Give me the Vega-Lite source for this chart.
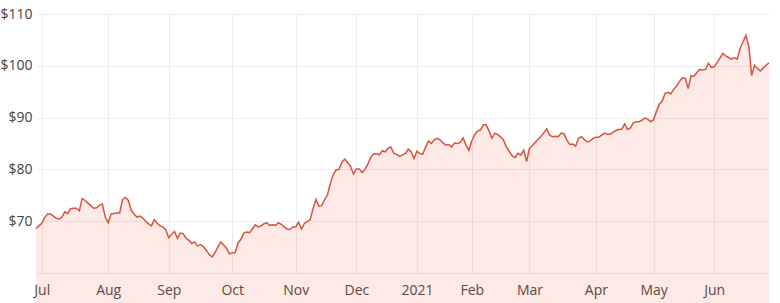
{
  "$schema": "https://vega.github.io/schema/vega-lite/v6.json",
  "width": 733,
  "height": 259,
  "autosize": {"type": "none"},
  "padding": {"left": 36, "top": 14, "right": 11, "bottom": 30},
  "background": "#ffffff",
  "config": {
    "view": {"stroke": null},
    "font": "Open Sans",
    "axis": {
      "labelFont": "Open Sans",
      "labelFontSize": 14,
      "labelColor": "#444444",
      "gridColor": "#ececec",
      "gridWidth": 1,
      "ticks": false,
      "domain": false,
      "title": null
    }
  },
  "data": {
    "values": [
      {"d":"2020-06-29","p":68.6},{"d":"2020-06-30","p":69.1},{"d":"2020-07-01","p":69.6},{"d":"2020-07-02","p":70.7},{"d":"2020-07-03","p":71.4},
      {"d":"2020-07-06","p":71.4},{"d":"2020-07-07","p":71.0},{"d":"2020-07-08","p":70.6},{"d":"2020-07-09","p":70.4},{"d":"2020-07-10","p":70.8},
      {"d":"2020-07-13","p":71.8},{"d":"2020-07-14","p":71.5},{"d":"2020-07-15","p":72.4},{"d":"2020-07-16","p":72.5},{"d":"2020-07-17","p":72.5},
      {"d":"2020-07-20","p":72.0},{"d":"2020-07-21","p":74.4},{"d":"2020-07-22","p":74.0},{"d":"2020-07-23","p":73.5},{"d":"2020-07-24","p":73.0},
      {"d":"2020-07-27","p":72.5},{"d":"2020-07-28","p":72.6},{"d":"2020-07-29","p":73.1},{"d":"2020-07-30","p":73.3},{"d":"2020-07-31","p":70.8},
      {"d":"2020-08-03","p":69.7},{"d":"2020-08-04","p":71.4},{"d":"2020-08-05","p":71.5},{"d":"2020-08-06","p":71.6},{"d":"2020-08-07","p":71.6},
      {"d":"2020-08-10","p":74.2},{"d":"2020-08-11","p":74.6},{"d":"2020-08-12","p":74.0},{"d":"2020-08-13","p":72.1},{"d":"2020-08-14","p":71.4},
      {"d":"2020-08-17","p":70.8},{"d":"2020-08-18","p":71.0},{"d":"2020-08-19","p":70.6},{"d":"2020-08-20","p":70.0},{"d":"2020-08-21","p":69.5},
      {"d":"2020-08-24","p":69.1},{"d":"2020-08-25","p":70.3},{"d":"2020-08-26","p":69.6},{"d":"2020-08-27","p":69.1},{"d":"2020-08-28","p":68.9},
      {"d":"2020-08-31","p":68.3},
      {"d":"2020-09-01","p":66.8},{"d":"2020-09-02","p":67.5},{"d":"2020-09-03","p":68.0},{"d":"2020-09-04","p":66.7},
      {"d":"2020-09-07","p":67.7},{"d":"2020-09-08","p":67.6},{"d":"2020-09-09","p":66.7},{"d":"2020-09-10","p":66.3},{"d":"2020-09-11","p":65.7},
      {"d":"2020-09-14","p":66.0},{"d":"2020-09-15","p":65.2},{"d":"2020-09-16","p":65.5},{"d":"2020-09-17","p":65.1},{"d":"2020-09-18","p":64.4},
      {"d":"2020-09-21","p":63.6},{"d":"2020-09-22","p":63.1},{"d":"2020-09-23","p":63.9},{"d":"2020-09-24","p":65.0},{"d":"2020-09-25","p":66.0},
      {"d":"2020-09-28","p":65.4},{"d":"2020-09-29","p":64.8},{"d":"2020-09-30","p":63.7},
      {"d":"2020-10-01","p":63.9},{"d":"2020-10-02","p":63.9},
      {"d":"2020-10-05","p":65.8},{"d":"2020-10-06","p":66.5},{"d":"2020-10-07","p":67.7},{"d":"2020-10-08","p":67.9},{"d":"2020-10-09","p":67.8},
      {"d":"2020-10-12","p":68.5},{"d":"2020-10-13","p":69.3},{"d":"2020-10-14","p":68.9},{"d":"2020-10-15","p":69.1},{"d":"2020-10-16","p":69.5},
      {"d":"2020-10-19","p":69.7},{"d":"2020-10-20","p":69.2},{"d":"2020-10-21","p":69.3},{"d":"2020-10-22","p":69.2},{"d":"2020-10-23","p":69.7},
      {"d":"2020-10-26","p":69.4},{"d":"2020-10-27","p":68.9},{"d":"2020-10-28","p":68.5},{"d":"2020-10-29","p":68.4},{"d":"2020-10-30","p":68.9},
      {"d":"2020-11-02","p":68.9},{"d":"2020-11-03","p":69.8},{"d":"2020-11-04","p":68.5},{"d":"2020-11-05","p":69.6},{"d":"2020-11-06","p":69.9},
      {"d":"2020-11-09","p":70.3},{"d":"2020-11-10","p":72.4},{"d":"2020-11-11","p":74.2},{"d":"2020-11-12","p":72.9},{"d":"2020-11-13","p":73.0},
      {"d":"2020-11-16","p":74.1},{"d":"2020-11-17","p":75.1},{"d":"2020-11-18","p":77.3},{"d":"2020-11-19","p":79.0},{"d":"2020-11-20","p":79.9},
      {"d":"2020-11-23","p":80.0},{"d":"2020-11-24","p":81.4},{"d":"2020-11-25","p":82.0},{"d":"2020-11-26","p":81.3},{"d":"2020-11-27","p":80.6},
      {"d":"2020-11-30","p":79.1},
      {"d":"2020-12-01","p":80.1},{"d":"2020-12-02","p":80.1},{"d":"2020-12-03","p":79.4},{"d":"2020-12-04","p":80.0},
      {"d":"2020-12-07","p":81.0},{"d":"2020-12-08","p":82.3},{"d":"2020-12-09","p":83.0},{"d":"2020-12-10","p":83.0},{"d":"2020-12-11","p":82.8},
      {"d":"2020-12-14","p":83.6},{"d":"2020-12-15","p":83.4},{"d":"2020-12-16","p":84.1},{"d":"2020-12-17","p":84.3},{"d":"2020-12-18","p":83.1},
      {"d":"2020-12-21","p":82.9},{"d":"2020-12-22","p":82.5},{"d":"2020-12-23","p":82.8},{"d":"2020-12-24","p":83.1},
      {"d":"2020-12-29","p":83.9},{"d":"2020-12-30","p":83.4},{"d":"2020-12-31","p":82.1},
      {"d":"2021-01-04","p":83.5},{"d":"2021-01-05","p":83.1},{"d":"2021-01-06","p":82.9},{"d":"2021-01-07","p":84.3},{"d":"2021-01-08","p":85.5},
      {"d":"2021-01-11","p":85.0},{"d":"2021-01-12","p":85.7},{"d":"2021-01-13","p":86.0},{"d":"2021-01-14","p":85.7},{"d":"2021-01-15","p":85.1},
      {"d":"2021-01-18","p":84.7},{"d":"2021-01-19","p":84.8},{"d":"2021-01-20","p":84.3},{"d":"2021-01-21","p":85.1},{"d":"2021-01-22","p":85.0},
      {"d":"2021-01-25","p":85.2},{"d":"2021-01-27","p":86.1},{"d":"2021-01-28","p":84.7},{"d":"2021-01-29","p":83.7},
      {"d":"2021-02-01","p":85.5},{"d":"2021-02-02","p":86.7},{"d":"2021-02-03","p":87.4},{"d":"2021-02-04","p":87.6},{"d":"2021-02-05","p":88.6},
      {"d":"2021-02-08","p":88.6},{"d":"2021-02-09","p":87.4},{"d":"2021-02-10","p":86.0},{"d":"2021-02-11","p":87.0},{"d":"2021-02-12","p":86.7},
      {"d":"2021-02-15","p":86.3},{"d":"2021-02-16","p":85.7},{"d":"2021-02-17","p":84.3},{"d":"2021-02-18","p":83.5},{"d":"2021-02-19","p":82.6},
      {"d":"2021-02-22","p":82.3},{"d":"2021-02-23","p":83.1},{"d":"2021-02-24","p":82.8},{"d":"2021-02-25","p":83.7},{"d":"2021-02-26","p":81.5},
      {"d":"2021-03-01","p":84.1},{"d":"2021-03-02","p":84.6},{"d":"2021-03-03","p":85.2},{"d":"2021-03-04","p":85.8},{"d":"2021-03-05","p":86.4},
      {"d":"2021-03-08","p":87.1},{"d":"2021-03-09","p":87.8},{"d":"2021-03-10","p":86.6},{"d":"2021-03-11","p":86.3},{"d":"2021-03-12","p":86.4},
      {"d":"2021-03-15","p":86.3},{"d":"2021-03-16","p":87.0},{"d":"2021-03-17","p":86.9},{"d":"2021-03-18","p":85.6},{"d":"2021-03-19","p":84.8},
      {"d":"2021-03-22","p":84.9},{"d":"2021-03-23","p":84.5},{"d":"2021-03-24","p":86.0},{"d":"2021-03-25","p":86.3},{"d":"2021-03-26","p":85.8},
      {"d":"2021-03-29","p":85.3},{"d":"2021-03-30","p":85.5},{"d":"2021-03-31","p":86.0},
      {"d":"2021-04-01","p":86.2},
      {"d":"2021-04-06","p":86.2},{"d":"2021-04-07","p":86.6},{"d":"2021-04-08","p":87.0},{"d":"2021-04-09","p":86.8},
      {"d":"2021-04-12","p":86.8},{"d":"2021-04-13","p":87.2},{"d":"2021-04-14","p":87.5},{"d":"2021-04-15","p":87.7},{"d":"2021-04-16","p":87.8},
      {"d":"2021-04-19","p":88.8},{"d":"2021-04-20","p":87.7},{"d":"2021-04-21","p":88.0},{"d":"2021-04-22","p":89.0},{"d":"2021-04-23","p":89.2},
      {"d":"2021-04-26","p":89.2},{"d":"2021-04-27","p":89.5},{"d":"2021-04-28","p":89.9},{"d":"2021-04-29","p":89.7},{"d":"2021-04-30","p":89.2},
      {"d":"2021-05-03","p":89.6},{"d":"2021-05-04","p":91.2},{"d":"2021-05-05","p":92.6},{"d":"2021-05-06","p":93.2},{"d":"2021-05-07","p":94.7},
      {"d":"2021-05-10","p":94.9},{"d":"2021-05-11","p":94.6},{"d":"2021-05-12","p":95.5},{"d":"2021-05-13","p":96.1},{"d":"2021-05-14","p":97.0},
      {"d":"2021-05-17","p":97.7},{"d":"2021-05-18","p":97.6},{"d":"2021-05-19","p":95.6},{"d":"2021-05-20","p":98.1},{"d":"2021-05-21","p":98.0},
      {"d":"2021-05-24","p":98.7},{"d":"2021-05-25","p":99.3},{"d":"2021-05-26","p":99.2},{"d":"2021-05-27","p":99.3},{"d":"2021-05-28","p":100.5},
      {"d":"2021-05-31","p":99.7},
      {"d":"2021-06-01","p":99.8},{"d":"2021-06-02","p":100.6},{"d":"2021-06-03","p":101.5},{"d":"2021-06-04","p":102.4},
      {"d":"2021-06-07","p":101.9},{"d":"2021-06-08","p":101.6},{"d":"2021-06-09","p":101.3},{"d":"2021-06-10","p":101.6},{"d":"2021-06-11","p":101.3},
      {"d":"2021-06-15","p":103.4},{"d":"2021-06-16","p":104.6},{"d":"2021-06-17","p":105.9},{"d":"2021-06-18","p":103.8},
      {"d":"2021-06-21","p":98.1},{"d":"2021-06-22","p":100.1},{"d":"2021-06-23","p":99.5},{"d":"2021-06-24","p":99.0},{"d":"2021-06-25","p":99.6},
      {"d":"2021-06-28","p":100.1},{"d":"2021-06-29","p":100.6}
    ]
  },
  "encoding": {
    "x": {
      "field": "d",
      "type": "ordinal",
      "sort": "ascending",
      "scale": {"type": "point", "padding": 0},
      "axis": {
        "values": ["2020-07-01","2020-08-03","2020-09-01","2020-10-01","2020-11-02","2020-12-01","2021-01-04","2021-02-01","2021-03-01","2021-04-01","2021-05-03","2021-06-01"],
        "labelExpr": "utcmonth(toDate(datum.value)) == 0 ? utcFormat(toDate(datum.value), '%Y') : utcFormat(toDate(datum.value), '%b')",
        "labelAngle": 0,
        "labelPadding": 10,
        "labelFlush": false,
        "grid": true
      }
    },
    "y": {
      "field": "p",
      "type": "quantitative",
      "scale": {"domain": [60, 110], "nice": false, "zero": false},
      "axis": {
        "values": [60, 70, 80, 90, 100, 110],
        "labelExpr": "datum.value == 60 ? '' : '$' + datum.value",
        "labelPadding": 4,
        "grid": true
      }
    }
  },
  "layer": [
    {"mark": {"type": "area", "color": "#f26b50", "fillOpacity": 0.15}},
    {"mark": {"type": "line", "color": "#d9533f", "strokeWidth": 1.5}}
  ]
}
